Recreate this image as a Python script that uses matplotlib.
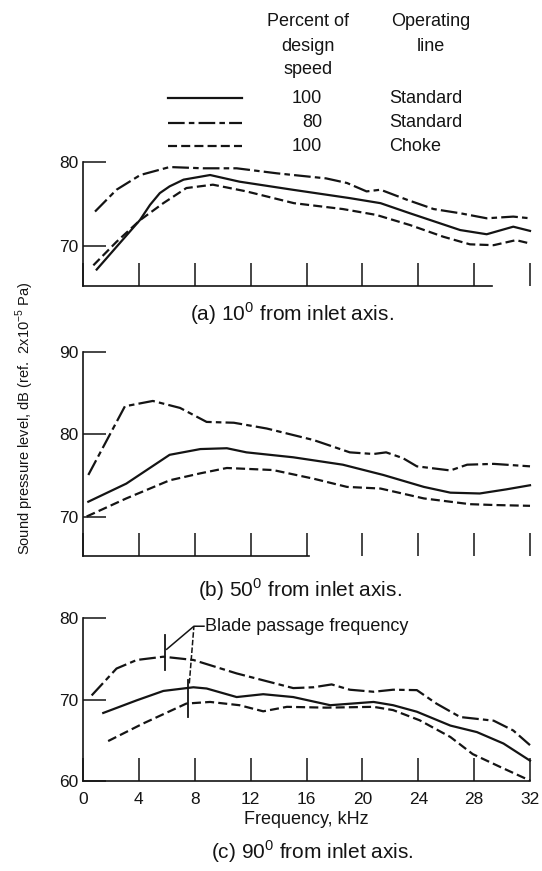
import matplotlib
matplotlib.use("Agg")
import matplotlib.pyplot as plt
from matplotlib.lines import Line2D

plt.rcParams['font.family'] = ['Liberation Sans', 'DejaVu Sans']
plt.rcParams['mathtext.fontset'] = 'custom'
plt.rcParams['mathtext.rm'] = 'Liberation Sans'
plt.rcParams['lines.scale_dashes'] = False

INK = '#141414'
W, H = 542, 871

# (a) 10 deg from inlet axis -- frequency kHz / SPL dB
a_std100_f = [0.98, 4.08, 4.8, 5.5, 6.2, 7.2, 9.1, 11.2, 15.0, 19.1, 21.3, 23.4, 27.0, 28.9, 30.8, 32.0]
a_std100_db = [67.2, 73.1, 74.9, 76.3, 77.1, 77.9, 78.45, 77.66, 76.7, 75.7, 75.1, 73.9, 71.9, 71.4, 72.3, 71.8]
a_std80_f = [0.86, 2.4, 4.1, 6.2, 8.6, 11.0, 13.9, 17.4, 18.9, 20.3, 21.3, 23.2, 25.1, 27.0, 28.9, 30.8, 32.0]
a_std80_db = [74.1, 76.7, 78.45, 79.4, 79.25, 79.25, 78.65, 78.05, 77.5, 76.5, 76.7, 75.5, 74.4, 73.9, 73.3, 73.5, 73.3]
a_choke_f = [0.74, 2.4, 4.1, 5.75, 7.4, 9.3, 11.7, 15.1, 18.6, 21.0, 23.4, 25.8, 27.7, 29.4, 31.0, 32.0]
a_choke_db = [67.7, 70.5, 73.1, 75.1, 76.9, 77.3, 76.5, 75.1, 74.4, 73.7, 72.5, 71.1, 70.2, 70.1, 70.7, 70.3]

# (b) 50 deg from inlet axis
b_std100_f = [0.38, 3.1, 6.2, 8.4, 10.3, 11.7, 15.05, 18.6, 21.5, 24.4, 26.3, 28.4, 30.3, 32.0]
b_std100_db = [71.8, 74.0, 77.5, 78.2, 78.3, 77.8, 77.2, 76.3, 75.05, 73.6, 72.9, 72.8, 73.3, 73.8]
b_std80_f = [0.38, 3.0, 5.0, 6.95, 8.85, 10.8, 13.15, 16.5, 19.1, 20.8, 21.7, 22.9, 23.9, 26.3, 27.5, 29.4, 32.0]
b_std80_db = [75.05, 83.4, 84.05, 83.2, 81.5, 81.4, 80.7, 79.3, 77.8, 77.6, 77.8, 77.1, 76.1, 75.6, 76.3, 76.4, 76.1]
b_choke_f = [0.26, 3.1, 6.2, 8.4, 10.3, 13.6, 16.5, 18.9, 21.3, 24.4, 27.7, 29.4, 32.0]
b_choke_db = [70.0, 72.2, 74.4, 75.25, 75.9, 75.65, 74.6, 73.6, 73.4, 72.2, 71.5, 71.4, 71.3]

# (c) 90 deg from inlet axis
c_std100_f = [1.45, 3.85, 5.75, 7.9, 8.85, 11.0, 12.9, 15.05, 17.7, 20.8, 22.2, 23.9, 26.3, 28.2, 30.1, 32.0]
c_std100_db = [68.35, 69.9, 71.05, 71.5, 71.35, 70.3, 70.65, 70.3, 69.3, 69.7, 69.3, 68.5, 66.8, 66.0, 64.6, 62.5]
c_std80_f = [0.62, 2.4, 3.85, 5.75, 7.9, 11.0, 15.05, 16.5, 17.8, 19.1, 20.8, 22.2, 23.9, 25.3, 27.0, 29.4, 30.8, 32.0]
c_std80_db = [70.5, 73.8, 74.85, 75.25, 74.85, 73.2, 71.4, 71.5, 71.85, 71.2, 70.95, 71.2, 71.15, 69.5, 67.85, 67.4, 66.2, 64.4]
c_choke_f = [1.8, 4.3, 7.4, 9.1, 11.2, 12.9, 14.6, 17.4, 20.8, 22.2, 24.1, 26.3, 27.9, 29.9, 32.0]
c_choke_db = [64.9, 67.05, 69.5, 69.7, 69.3, 68.55, 69.1, 69.0, 69.1, 68.7, 67.45, 65.4, 63.3, 61.7, 60.05]

# blade passage frequency marks (kHz, dB range)
bpf_80_f, bpf_80_db = 5.87, (73.6, 77.9)
bpf_100_f, bpf_100_db = 7.49, (67.86, 72.4)

freq_ticks = [0, 4, 8, 12, 16, 20, 24, 28, 32]
legend_speed = ['100', '80', '100']
legend_line = ['Standard', 'Standard', 'Choke']

# line styles: solid, long-short dash, short dash
styles = [dict(ls='-'), dict(dashes=(12, 3, 4, 3)), dict(dashes=(6.5, 3))]

fig = plt.figure(figsize=(W / 100, H / 100), dpi=100)


def make_axes(top, bottom, ylim, yticks, bottom_end, caption, cap_xy):
    ax = fig.add_axes([83 / W, 1 - bottom / H, 447 / W, (bottom - top) / H])
    ax.set_xlim(0, 32)
    ax.set_ylim(*ylim)
    ax.set_xticks(freq_ticks)
    ax.set_yticks(yticks)
    for s in ('top', 'right'):
        ax.spines[s].set_visible(False)
    for s in ('left', 'bottom'):
        ax.spines[s].set_linewidth(1.2)
        ax.spines[s].set_color(INK)
    ax.spines['bottom'].set_bounds(0, bottom_end)
    ax.tick_params(direction='in', length=16.5, width=1.1, color=INK,
                   labelsize=12.5, labelcolor=INK)
    ax.tick_params(axis='y', pad=3)
    ax.tick_params(axis='x', pad=8)
    ax.patch.set_alpha(0)
    fig.text(cap_xy[0] / W, 1 - cap_xy[1] / H, caption, ha='center', va='center',
             fontsize=15, color=INK)
    return ax


ax_a = make_axes(162, 286, (65.24, 80), [70, 80], 29.3,
                 r'(a) 10$^{\mathrm{0}}$ from inlet axis.', (292, 314))
ax_b = make_axes(352, 556, (65.2, 90), [70, 80, 90], 16.2,
                 r'(b) 50$^{\mathrm{0}}$ from inlet axis.', (300, 590))
ax_c = make_axes(618, 781, (60, 80), [60, 70, 80], 32,
                 r'(c) 90$^{\mathrm{0}}$ from inlet axis.', (312, 852))
ax_a.set_xticklabels([])
ax_b.set_xticklabels([])

panels = [
    (ax_a, [(a_std100_f, a_std100_db), (a_std80_f, a_std80_db), (a_choke_f, a_choke_db)]),
    (ax_b, [(b_std100_f, b_std100_db), (b_std80_f, b_std80_db), (b_choke_f, b_choke_db)]),
    (ax_c, [(c_std100_f, c_std100_db), (c_std80_f, c_std80_db), (c_choke_f, c_choke_db)]),
]
for ax, curves in panels:
    for (f, db), st in zip(curves, styles):
        ax.plot(f, db, color=INK, lw=1.6, clip_on=False, **st)

# blade passage frequency marks and leaders
ax_c.plot([bpf_80_f, bpf_80_f], bpf_80_db, color=INK, lw=1.3)
ax_c.plot([bpf_100_f, bpf_100_f], bpf_100_db, color=INK, lw=1.3)
ax_c.plot([5.99, 7.94, 8.66], [76.16, 78.99, 78.99], color=INK, lw=1.1)
ax_c.plot([7.61, 7.94], [71.97, 78.99], color=INK, lw=1.1, dashes=(4, 1.5))
ax_c.text(8.73, 78.95, 'Blade passage frequency', ha='left', va='center',
          fontsize=13, color=INK)

ax_c.set_xlabel('Frequency, kHz', fontsize=13, color=INK, labelpad=3)

fig.text(25 / W, 1 - 418 / H, r'Sound pressure level, dB (ref.  2x10$^{-5}$ Pa)',
         rotation=90, ha='center', va='center', fontsize=10.5, color=INK)

# key
for txt, y in zip(['Percent of', 'design', 'speed'], [21.7, 46.7, 70]):
    fig.text(308 / W, 1 - y / H, txt, ha='center', va='center', fontsize=13, color=INK)
for txt, y in zip(['Operating', 'line'], [21.7, 46.7]):
    fig.text(431 / W, 1 - y / H, txt, ha='center', va='center', fontsize=13, color=INK)
for i, (spd, op) in enumerate(zip(legend_speed, legend_line)):
    y = [98.3, 122.7, 146.5][i]
    fig.add_artist(Line2D([168 / W, 242 / W], [1 - y / H, 1 - y / H], color=INK,
                          lw=1.6, transform=fig.transFigure, **styles[i]))
    fig.text(322 / W, 1 - y / H, spd, ha='right', va='center', fontsize=13, color=INK)
    fig.text(389 / W, 1 - y / H, op, ha='left', va='center', fontsize=13, color=INK)

fig.savefig('out.png', dpi=100)
